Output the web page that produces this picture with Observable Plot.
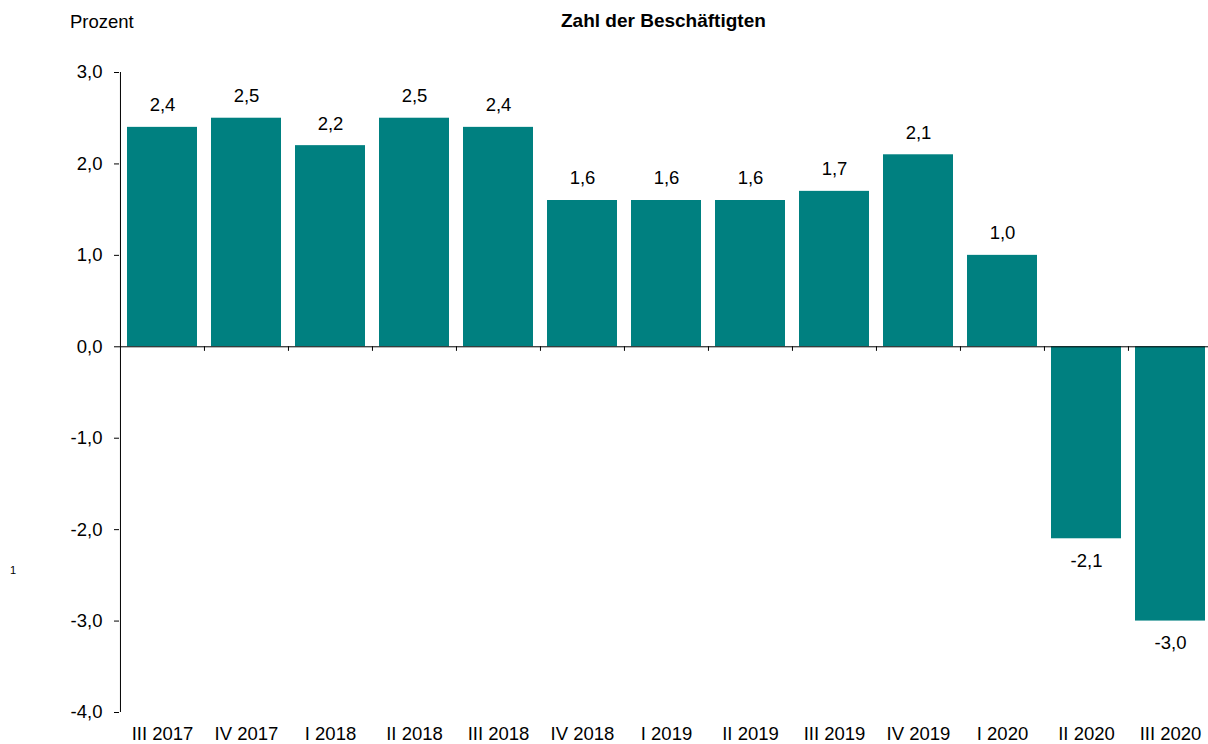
<!DOCTYPE html>
<html>
<head>
<meta charset="utf-8">
<script src="https://cdn.jsdelivr.net/npm/d3@7"></script>
<script src="https://cdn.jsdelivr.net/npm/@observablehq/plot@0.6"></script>
<style>
  html, body { margin: 0; padding: 0; background: #fff; overflow: hidden; }
  body { font-family: "Liberation Sans", Arial, sans-serif; color: #000; }
  #wrap { position: relative; width: 1208px; height: 744px; }
  #header { position: relative; height: 40px; }
  #unit { position: absolute; left: 70px; top: 11px; font-size: 18.5px; }
  #title { position: absolute; left: 561px; top: 10px; font-size: 19px; font-weight: bold; }
  #note { position: absolute; left: 10px; top: 564px; font-size: 11px; }
  #chart svg { max-width: none !important; }
</style>
</head>
<body>
<div id="wrap">
  <div id="header">
    <span id="unit">Prozent</span>
    <span id="title">Zahl der Beschäftigten</span>
  </div>
  <div id="chart"></div>
  <div id="note">1</div>
</div>
<script>
const quarters = ["III 2017", "IV 2017", "I 2018", "II 2018", "III 2018", "IV 2018", "I 2019", "II 2019", "III 2019", "IV 2019", "I 2020", "II 2020", "III 2020"];
const values = [2.4, 2.5, 2.2, 2.5, 2.4, 1.6, 1.6, 1.6, 1.7, 2.1, 1.0, -2.1, -3.0];
const yTicks = [-4, -3, -2, -1, 0, 1, 2, 3];

const data = quarters.map((q, i) => ({q, v: values[i]}));
const fmt = d => d.toFixed(1).replace(".", ",");

const width = 1212, marginLeft = 119, marginRight = 0;
const step = (width - marginLeft - marginRight) / quarters.length;

const chart = Plot.plot({
  width,
  height: 704,
  marginTop: 32,
  marginBottom: 32,
  marginLeft,
  marginRight,
  style: {fontFamily: "'Liberation Sans', Arial, sans-serif", fontSize: "18.5px", color: "#000", background: "#fff", maxWidth: "none"},
  x: {domain: quarters, paddingInner: 1/6, paddingOuter: 1/12, label: null},
  y: {domain: [-4, 3], label: null},
  marks: [
    Plot.barY(data, {x: "q", y: "v", fill: "#008080"}),
    Plot.ruleY([0], {stroke: "#000", strokeWidth: 1}),
    Plot.ruleX([quarters[0]], {x: d => d, dx: -step / 2, y1: -4, y2: 3, stroke: "#000"}),
    Plot.ruleX(quarters.slice(1), {x: d => d, dx: -step / 2, y1: 0, y2: -0.05, stroke: "#000"}),
    Plot.axisY({ticks: yTicks, tickFormat: fmt, tickSize: 5, tickPadding: 12, label: null, fontSize: 18.5}),
    Plot.axisX({anchor: "bottom", tickSize: 0, tickPadding: 14, label: null, fontSize: 18.5}),
    Plot.text(data.filter(d => d.v >= 0), {x: "q", y: "v", text: d => fmt(d.v), dy: -22, fontSize: 18.5, fill: "#000"}),
    Plot.text(data.filter(d => d.v < 0), {x: "q", y: "v", text: d => fmt(d.v), dy: 22, fontSize: 18.5, fill: "#000"})
  ]
});
document.getElementById("chart").appendChild(chart);
</script>
</body>
</html>
